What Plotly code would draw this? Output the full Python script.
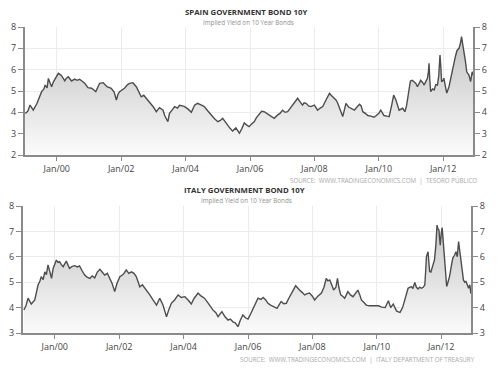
import plotly.graph_objects as go
from datetime import datetime, timedelta

# ---------------- data (decimal years, yields in %) ----------------
spain_t = [1999.02,1999.10,1999.17,1999.27,1999.38,1999.45,1999.53,1999.60,1999.64,1999.70,1999.74,1999.80,1999.84,1999.90,1999.97,
 2000.05,2000.10,2000.15,2000.25,2000.30,2000.36,2000.46,2000.56,2000.63,2000.71,2000.80,2000.87,2000.97,
 2001.08,2001.15,2001.21,2001.28,2001.33,2001.44,2001.50,2001.56,2001.69,2001.78,2001.85,2001.90,2001.95,
 2002.03,2002.10,2002.20,2002.26,2002.36,2002.47,2002.55,2002.62,2002.70,2002.78,2002.85,2002.93,
 2003.00,2003.09,2003.19,2003.30,2003.35,2003.45,2003.50,2003.58,2003.66,2003.75,2003.81,2003.90,2003.97,
 2004.08,2004.18,2004.28,2004.37,2004.48,2004.58,2004.70,2004.79,2004.90,
 2005.00,2005.08,2005.15,2005.22,2005.30,2005.38,2005.46,2005.56,2005.62,2005.67,2005.75,2005.82,2005.90,2005.97,
 2006.05,2006.13,2006.20,2006.29,2006.36,2006.44,2006.52,2006.60,2006.68,2006.75,2006.86,2006.93,
 2007.01,2007.09,2007.17,2007.25,2007.32,2007.40,2007.48,2007.55,2007.63,2007.68,2007.74,2007.82,2007.89,
 2008.00,2008.10,2008.18,2008.26,2008.36,2008.42,2008.47,2008.52,2008.57,2008.67,2008.72,2008.78,2008.84,2008.88,2008.93,2008.98,
 2009.06,2009.14,2009.24,2009.32,2009.40,2009.45,2009.50,2009.58,2009.66,2009.75,2009.85,2009.92,
 2010.00,2010.06,2010.16,2010.25,2010.32,2010.40,2010.46,2010.53,2010.58,2010.63,2010.74,2010.81,2010.86,2010.90,2010.95,2010.98,
 2011.04,2011.10,2011.15,2011.20,2011.25,2011.30,2011.36,2011.41,2011.46,2011.51,2011.54,2011.56,2011.58,2011.61,2011.67,2011.72,2011.77,2011.82,2011.86,2011.90,2011.93,2011.95,
 2012.00,2012.02,2012.07,2012.11,2012.18,2012.23,2012.28,2012.33,2012.38,2012.43,2012.49,2012.53,2012.57,2012.61,2012.65,2012.69,2012.73,2012.80,2012.85,2012.90,2012.95]
spain_y = [3.95,4.05,4.34,4.10,4.40,4.65,4.97,5.10,5.28,5.15,5.59,5.35,5.20,5.44,5.60,
 5.83,5.78,5.72,5.47,5.60,5.67,5.47,5.56,5.50,5.55,5.45,5.36,5.16,
 5.13,5.05,4.97,5.20,5.36,5.39,5.30,5.20,5.13,4.95,4.58,4.85,4.97,
 5.05,5.13,5.30,5.36,5.39,5.20,4.95,4.73,4.80,4.66,4.55,4.42,
 4.25,4.03,4.22,4.10,3.85,3.56,3.95,4.10,4.27,4.20,4.33,4.30,4.27,
 4.15,4.00,4.33,4.42,4.35,4.27,4.05,3.88,3.70,
 3.56,3.62,3.72,3.55,3.41,3.25,3.12,3.27,3.15,3.02,3.25,3.50,3.40,3.33,
 3.45,3.56,3.75,3.95,4.05,4.03,3.95,3.88,3.80,3.72,3.88,3.95,
 4.10,4.00,4.03,4.20,4.34,4.50,4.66,4.50,4.34,4.45,4.42,4.30,4.27,
 4.34,4.10,4.20,4.27,4.58,4.75,4.89,4.80,4.73,4.58,4.45,4.19,4.00,3.80,4.10,4.42,
 4.25,4.19,4.10,4.25,4.38,4.30,4.03,3.95,3.85,3.82,3.77,3.85,
 3.95,4.10,3.85,3.82,3.80,4.34,4.81,4.58,4.30,4.10,4.19,4.03,4.30,4.73,5.20,5.47,
 5.50,5.44,5.35,5.20,5.40,5.50,5.40,5.28,5.45,5.60,5.90,6.30,5.60,4.97,5.10,5.05,5.30,5.28,5.70,6.69,6.00,5.44,
 5.50,5.60,5.20,4.90,5.20,5.60,6.00,6.25,6.63,6.90,7.00,7.20,7.55,7.15,6.84,6.40,5.90,5.75,5.44,5.90,5.70]

italy_t = [1999.04,1999.10,1999.17,1999.27,1999.38,1999.44,1999.48,1999.54,1999.58,1999.64,1999.69,1999.74,1999.79,1999.85,1999.90,1999.95,
 2000.00,2000.05,2000.10,2000.15,2000.20,2000.26,2000.36,2000.41,2000.46,2000.54,2000.62,2000.70,2000.77,2000.85,2000.93,
 2001.00,2001.09,2001.16,2001.24,2001.32,2001.40,2001.47,2001.55,2001.63,2001.71,2001.78,2001.86,2001.93,
 2002.02,2002.12,2002.22,2002.30,2002.38,2002.46,2002.53,2002.58,2002.64,2002.72,2002.79,2002.87,2002.95,
 2003.05,2003.16,2003.26,2003.36,2003.42,2003.47,2003.55,2003.62,2003.72,2003.83,2003.93,
 2004.04,2004.14,2004.24,2004.32,2004.40,2004.45,2004.55,2004.65,2004.78,2004.91,
 2005.00,2005.07,2005.13,2005.19,2005.28,2005.38,2005.45,2005.53,2005.60,2005.69,2005.76,2005.84,2005.92,
 2006.00,2006.08,2006.16,2006.24,2006.31,2006.40,2006.47,2006.55,2006.62,2006.70,2006.78,2006.85,2006.90,2006.96,
 2007.03,2007.11,2007.19,2007.26,2007.34,2007.41,2007.48,2007.54,2007.60,2007.68,2007.76,2007.84,2007.91,
 2008.00,2008.07,2008.17,2008.28,2008.36,2008.43,2008.48,2008.54,2008.60,2008.66,2008.73,2008.78,2008.82,2008.88,2008.94,
 2009.00,2009.10,2009.18,2009.26,2009.34,2009.41,2009.47,2009.52,2009.60,2009.67,2009.76,2009.85,2009.95,
 2010.05,2010.15,2010.26,2010.36,2010.43,2010.51,2010.56,2010.61,2010.67,2010.72,2010.80,2010.87,2010.92,2010.97,
 2011.02,2011.07,2011.12,2011.18,2011.23,2011.28,2011.33,2011.38,2011.44,2011.49,2011.52,2011.54,2011.59,2011.62,2011.64,2011.68,2011.72,2011.76,2011.79,2011.83,2011.87,2011.90,2011.93,2011.95,2011.97,
 2012.00,2012.03,2012.07,2012.10,2012.14,2012.17,2012.21,2012.26,2012.31,2012.36,2012.41,2012.46,2012.50,2012.54,2012.58,2012.61,2012.65,2012.69,2012.73,2012.77,2012.81,2012.85,2012.89,2012.92]
italy_y = [3.91,4.05,4.37,4.14,4.30,4.60,4.89,5.05,5.22,5.10,5.41,5.30,5.68,5.40,5.15,5.54,
 5.70,5.87,5.78,5.81,5.70,5.61,5.83,5.70,5.54,5.62,5.65,5.60,5.64,5.45,5.28,
 5.20,5.15,5.25,5.17,5.40,5.51,5.40,5.28,5.35,5.15,4.95,4.63,4.95,
 5.22,5.30,5.48,5.35,5.41,5.35,5.22,5.00,4.82,4.90,4.79,4.65,4.50,
 4.30,4.10,4.37,4.10,3.85,3.64,3.95,4.17,4.30,4.50,4.40,
 4.43,4.30,4.14,4.35,4.50,4.57,4.45,4.37,4.15,3.91,
 3.80,3.64,3.75,3.84,3.65,3.51,3.55,3.44,3.40,3.25,3.50,3.71,3.60,
 3.55,3.75,3.97,4.15,4.37,4.32,4.40,4.30,4.17,4.10,4.04,4.00,3.97,4.10,
 4.24,4.15,4.17,4.35,4.57,4.70,4.86,4.75,4.69,4.60,4.50,4.55,4.57,
 4.45,4.30,4.45,4.57,4.80,5.15,5.05,5.09,4.90,4.69,4.80,5.15,4.80,4.50,4.45,
 4.37,4.63,4.50,4.43,4.55,4.69,4.50,4.30,4.20,4.10,4.07,4.07,4.05,
 4.07,4.02,4.00,4.27,4.00,4.14,4.00,3.87,3.83,3.81,4.00,4.30,4.55,4.76,
 4.80,4.83,4.75,4.99,4.80,4.73,4.80,4.76,4.80,4.89,5.50,6.00,6.20,5.80,5.42,5.40,5.56,5.70,5.88,6.40,7.25,7.10,7.05,6.70,6.46,
 6.90,7.15,6.50,5.95,5.30,4.83,5.00,5.23,5.60,5.95,6.05,6.20,6.00,6.60,6.20,5.88,5.40,5.09,5.00,5.03,4.90,4.76,4.90,4.55]

tick_dates = ["2000-01-01","2002-01-01","2004-01-01","2006-01-01","2008-01-01","2010-01-01","2012-01-01"]
tick_labels = ["Jan/00","Jan/02","Jan/04","Jan/06","Jan/08","Jan/10","Jan/12"]
titles = ["SPAIN GOVERNMENT BOND 10Y", "ITALY GOVERNMENT BOND 10Y"]
subtitle = "Implied Yield on 10 Year Bonds"
sources = ["SOURCE:  WWW.TRADINGECONOMICS.COM  |  TESORO PÚBLICO",
           "SOURCE:  WWW.TRADINGECONOMICS.COM  |  ITALY DEPARTMENT OF TREASURY"]


def to_dates(ts):
    out = []
    for t in ts:
        y = int(t)
        out.append(datetime(y, 1, 1) + timedelta(days=(t - y) * 365.25))
    return out


LINE = "#4d4d4d"
AXC = "#8a8a8a"
GRID = "#ececec"
TXT = "#444444"
FONT = "Open Sans, DejaVu Sans, sans-serif"
H = 379.0

fig = go.Figure()

panels = [
    dict(t=spain_t, y=spain_y, rng=[2, 8], xa="x", ya="y", ya2="y3",
         xdom=[25 / 500, 473 / 500], ydom=[1 - 155 / H, 1 - 27 / H]),
    dict(t=italy_t, y=italy_y, rng=[3, 8], xa="x2", ya="y2", ya2="y4",
         xdom=[23 / 500, 471 / 500], ydom=[1 - 333 / H, 1 - 206 / H]),
]

for i, p in enumerate(panels):
    d = to_dates(p["t"])
    fig.add_trace(go.Scatter(
        x=d, y=p["y"], xaxis=p["xa"], yaxis=p["ya"], mode="lines",
        line=dict(color=LINE, width=1.4),
        fill="tozeroy",
        fillgradient=dict(type="vertical",
                          colorscale=[[0, "#fbfbfb"], [1, "#c4c4c4"]],
                          start=p["rng"][0], stop=7.5),
        hoverinfo="skip", showlegend=False))
    # invisible trace to carry the right-hand duplicate axis
    fig.add_trace(go.Scatter(
        x=d, y=p["y"], xaxis=p["xa"], yaxis=p["ya2"], mode="lines",
        line=dict(color="rgba(0,0,0,0)", width=0), hoverinfo="skip", showlegend=False))

xrange = ["1999-01-06", "2012-12-04"]

def xaxis(dom, anchor):
    return dict(domain=dom, anchor=anchor, type="date", range=xrange, automargin=False,
                tickmode="array", tickvals=tick_dates, ticktext=tick_labels,
                showgrid=True, gridcolor=GRID, gridwidth=1,
                showline=True, linecolor=AXC, linewidth=2,
                ticks="outside", ticklen=4, tickcolor=AXC, tickwidth=1,
                tickfont=dict(family=FONT, size=9, color=TXT), zeroline=False)

def yaxis(dom, anchor, rng, side, grid, overlay=None):
    d = dict(domain=dom, anchor=anchor, range=rng, dtick=1, side=side, automargin=False,
             showgrid=grid, gridcolor=GRID, gridwidth=1,
             showline=True, linecolor=AXC, linewidth=2,
             ticks="outside", ticklen=5, tickcolor=AXC, tickwidth=1,
             tickfont=dict(family=FONT, size=9, color=TXT), zeroline=False)
    if overlay:
        d["overlaying"] = overlay
    return d

fig.update_layout(
    width=500, height=379,
    margin=dict(l=0, r=0, t=0, b=0, autoexpand=False),
    paper_bgcolor="white", plot_bgcolor="white",
    xaxis=xaxis(panels[0]["xdom"], "y"),
    xaxis2=xaxis(panels[1]["xdom"], "y2"),
    yaxis=yaxis(panels[0]["ydom"], "x", panels[0]["rng"], "left", True),
    yaxis2=yaxis(panels[1]["ydom"], "x2", panels[1]["rng"], "left", True),
    yaxis3=yaxis(panels[0]["ydom"], "x", panels[0]["rng"], "right", False, "y"),
    yaxis4=yaxis(panels[1]["ydom"], "x2", panels[1]["rng"], "right", False, "y2"),
)

ann = []
# (centre x px, title y px, subtitle y px)
title_pos = [(246, 12.0, 23.0), (244, 189.5, 200.5)]
# (right edge x px, y px)
source_pos = [(479, 181), (477, 359)]
for i in range(2):
    cx, ty, sy = title_pos[i]
    ann.append(dict(text="<b>" + titles[i] + "</b>", x=cx / 500, y=1 - ty / H, xref="paper", yref="paper",
                    xanchor="center", yanchor="middle", showarrow=False,
                    font=dict(family=FONT, size=7.8, color="#333333")))
    ann.append(dict(text=subtitle, x=(cx + 2) / 500, y=1 - sy / H, xref="paper", yref="paper",
                    xanchor="center", yanchor="middle", showarrow=False,
                    font=dict(family=FONT, size=6.3, color="#909090")))
    sx, syy = source_pos[i]
    ann.append(dict(text=sources[i], x=sx / 500, y=1 - syy / H, xref="paper", yref="paper",
                    xanchor="right", yanchor="middle", showarrow=False,
                    font=dict(family=FONT, size=6.2, color="#a8a8a8")))
fig.update_layout(annotations=ann)

fig.write_html("out.html", config={"displayModeBar": False},
               post_script="document.body.style.margin='0';document.body.style.overflow='hidden';")
